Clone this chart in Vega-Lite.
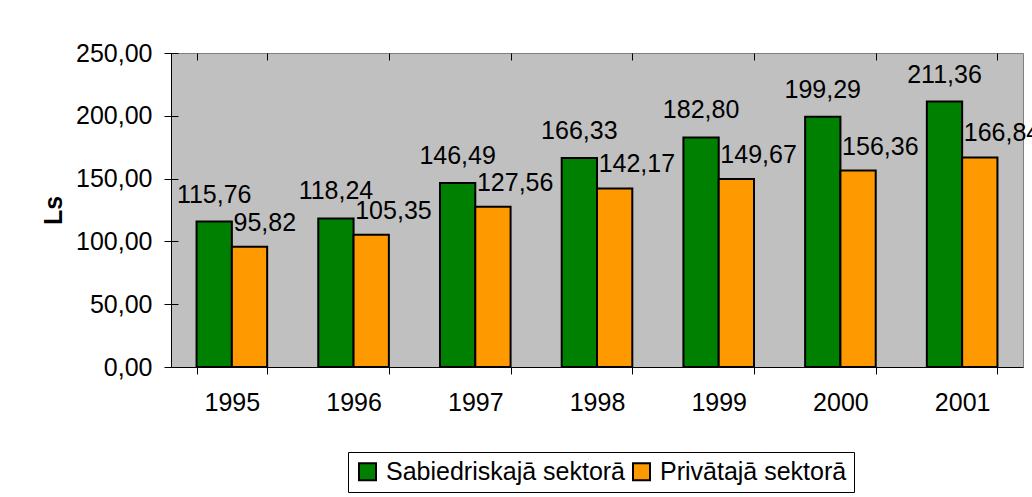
{
  "$schema": "https://vega.github.io/schema/vega-lite/v6.json",
  "width": 852,
  "height": 314,
  "autosize": "none",
  "padding": {"left": 171, "top": 53, "right": 9, "bottom": 130},
  "background": "white",
  "config": {
    "font": "Liberation Sans",
    "locale": {"number": {"decimal": ",", "thousands": " ", "grouping": [3], "currency": ["", " Ls"]}},
    "view": {"fill": "#C0C0C0", "stroke": "#808080", "strokeWidth": 1},
    "axis": {
      "domainColor": "black",
      "tickColor": "black",
      "labelColor": "black",
      "titleColor": "black",
      "labelFont": "Liberation Sans",
      "titleFont": "Liberation Sans",
      "labelFontSize": 25,
      "tickSize": 7,
      "grid": true,
      "gridColor": "black",
      "gridOpacity": 1,
      "gridDash": [7, 2000],
      "gridWidth": 1
    }
  },
  "data": {
    "values": [
      {"year": "1995", "sector": "Sabiedriskajā sektorā", "value": 115.76},
      {"year": "1995", "sector": "Privātajā sektorā", "value": 95.82},
      {"year": "1996", "sector": "Sabiedriskajā sektorā", "value": 118.24},
      {"year": "1996", "sector": "Privātajā sektorā", "value": 105.35},
      {"year": "1997", "sector": "Sabiedriskajā sektorā", "value": 146.49},
      {"year": "1997", "sector": "Privātajā sektorā", "value": 127.56},
      {"year": "1998", "sector": "Sabiedriskajā sektorā", "value": 166.33},
      {"year": "1998", "sector": "Privātajā sektorā", "value": 142.17},
      {"year": "1999", "sector": "Sabiedriskajā sektorā", "value": 182.80},
      {"year": "1999", "sector": "Privātajā sektorā", "value": 149.67},
      {"year": "2000", "sector": "Sabiedriskajā sektorā", "value": 199.29},
      {"year": "2000", "sector": "Privātajā sektorā", "value": 156.36},
      {"year": "2001", "sector": "Sabiedriskajā sektorā", "value": 211.36},
      {"year": "2001", "sector": "Privātajā sektorā", "value": 166.84}
    ]
  },
  "encoding": {
    "x": {
      "field": "year",
      "type": "ordinal",
      "scale": {"paddingInner": 0.42, "paddingOuter": 0.21},
      "axis": {"title": null, "labelAngle": 0, "labelPadding": 16, "tickBand": "extent"}
    },
    "xOffset": {
      "field": "sector",
      "type": "nominal",
      "scale": {"domain": ["Sabiedriskajā sektorā", "Privātajā sektorā"], "paddingInner": 0, "paddingOuter": 0}
    },
    "y": {
      "field": "value",
      "type": "quantitative",
      "scale": {"domain": [0, 250], "nice": false},
      "axis": {
        "values": [0, 50, 100, 150, 200, 250],
        "format": ".2f",
        "labelPadding": 12,
        "title": "Ls",
        "titleFontSize": 25,
        "titleFontWeight": "bold",
        "titlePadding": 9
      }
    }
  },
  "layer": [
    {
      "mark": {"type": "bar", "stroke": "black", "strokeWidth": 2},
      "encoding": {
        "color": {
          "field": "sector",
          "type": "nominal",
          "scale": {"domain": ["Sabiedriskajā sektorā", "Privātajā sektorā"], "range": ["#008000", "#FF9900"]},
          "legend": {
            "orient": "none",
            "legendX": 177,
            "legendY": 399,
            "direction": "horizontal",
            "title": null,
            "strokeColor": "black",
            "fillColor": "white",
            "padding": 7,
            "labelFont": "Liberation Sans",
            "labelFontSize": 25,
            "labelColor": "black",
            "labelLimit": 400,
            "labelOffset": 6,
            "columnPadding": 3,
            "symbolType": "square",
            "symbolSize": 289,
            "symbolStrokeColor": "black",
            "symbolStrokeWidth": 2,
            "symbolOpacity": 1
          }
        }
      }
    },
    {
      "transform": [{"filter": "datum.sector == 'Sabiedriskajā sektorā'"}],
      "mark": {"type": "text", "align": "center", "baseline": "alphabetic", "dy": -19, "fontSize": 25, "color": "black"},
      "encoding": {"text": {"field": "value", "type": "quantitative", "format": ".2f"}}
    },
    {
      "transform": [{"filter": "datum.sector == 'Privātajā sektorā'"}],
      "mark": {"type": "text", "align": "left", "baseline": "alphabetic", "dx": -16, "dy": -16, "fontSize": 25, "color": "black"},
      "encoding": {"text": {"field": "value", "type": "quantitative", "format": ".2f"}}
    }
  ]
}
